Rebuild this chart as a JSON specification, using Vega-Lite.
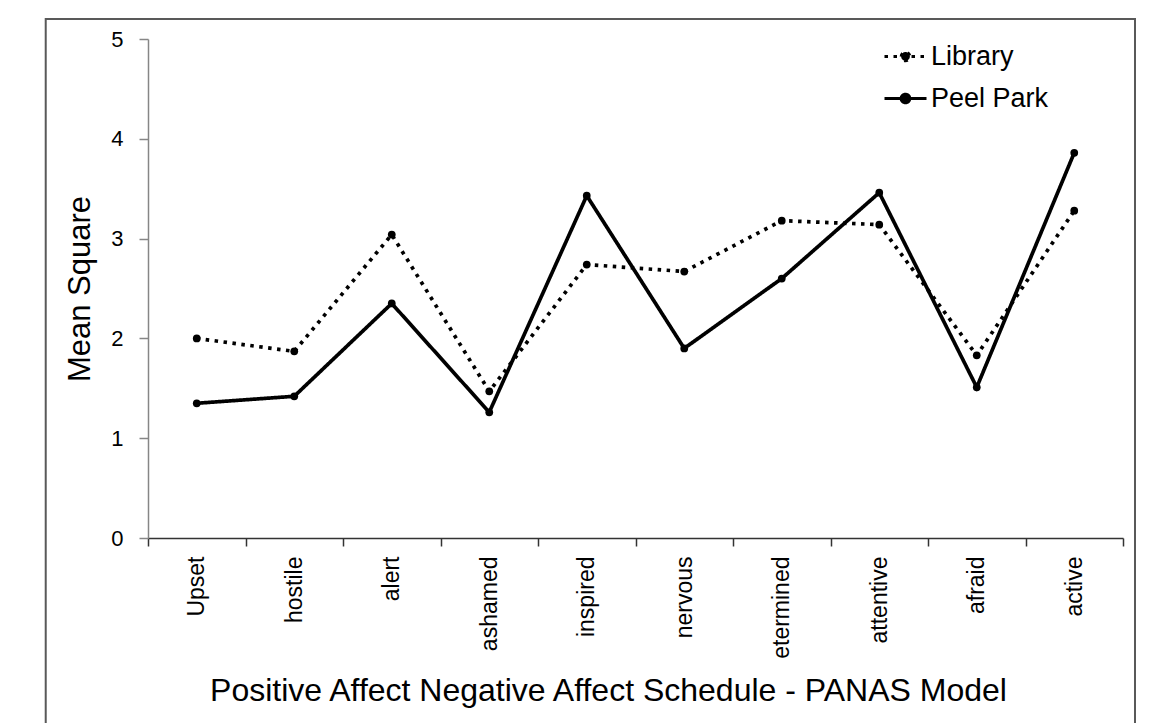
{
  "$schema": "https://vega.github.io/schema/vega-lite/v6.json",
  "width": 975,
  "height": 499,
  "autosize": {"type": "none"},
  "padding": {"left": 148, "top": 39, "right": 35, "bottom": 185},
  "background": "white",
  "config": {"font": "Liberation Sans", "view": {"stroke": null}},
  "layer": [
    {
      "data": {"values": [{"frame": 1}]},
      "mark": {"type": "rect", "filled": false, "color": "#595959", "strokeWidth": 2, "clip": false},
      "encoding": {
        "x": {"datum": -0.1049, "type": "quantitative", "scale": {"domain": [0, 1], "nice": false, "zero": false}, "axis": null},
        "x2": {"datum": 1.0123},
        "y": {"datum": 1.040, "type": "quantitative", "scale": {"domain": [0, 1], "nice": false, "zero": false}, "axis": null},
        "y2": {"datum": -0.38}
      }
    },
    {
      "data": {"values": [
        {"word": "Upset", "site": "Library", "value": 2.00},
        {"word": "hostile", "site": "Library", "value": 1.87},
        {"word": "alert", "site": "Library", "value": 3.04},
        {"word": "ashamed", "site": "Library", "value": 1.47},
        {"word": "inspired", "site": "Library", "value": 2.74},
        {"word": "nervous", "site": "Library", "value": 2.67},
        {"word": "etermined", "site": "Library", "value": 3.18},
        {"word": "attentive", "site": "Library", "value": 3.14},
        {"word": "afraid", "site": "Library", "value": 1.83},
        {"word": "active", "site": "Library", "value": 3.28},
        {"word": "Upset", "site": "Peel Park", "value": 1.35},
        {"word": "hostile", "site": "Peel Park", "value": 1.42},
        {"word": "alert", "site": "Peel Park", "value": 2.35},
        {"word": "ashamed", "site": "Peel Park", "value": 1.26},
        {"word": "inspired", "site": "Peel Park", "value": 3.43},
        {"word": "nervous", "site": "Peel Park", "value": 1.90},
        {"word": "etermined", "site": "Peel Park", "value": 2.60},
        {"word": "attentive", "site": "Peel Park", "value": 3.46},
        {"word": "afraid", "site": "Peel Park", "value": 1.51},
        {"word": "active", "site": "Peel Park", "value": 3.86}
      ]},
      "encoding": {
        "x": {
          "field": "word", "type": "nominal", "sort": null, "bandPosition": 0.5,
          "scale": {"type": "band", "paddingInner": 0, "paddingOuter": 0},
          "axis": {
            "title": "Positive Affect Negative Affect Schedule - PANAS Model",
            "titleFontSize": 32, "titleFontWeight": "normal", "titleColor": "black",
            "titleX": 460, "titleY": 162, "titleBaseline": "alphabetic", "titleAlign": "center",
            "labelAngle": -90, "labelFontSize": 23, "labelColor": "black", "labelPadding": 10,
            "tickSize": 8, "tickBand": "extent", "domainColor": "#333333", "tickColor": "#333333",
            "domainWidth": 1.5, "tickWidth": 1.5, "grid": false, "labelOverlap": false
          }
        },
        "y": {
          "field": "value", "type": "quantitative",
          "scale": {"domain": [0, 5], "nice": false},
          "axis": {
            "title": "Mean Square", "titleFontSize": 31, "titleFontWeight": "normal", "titleColor": "black",
            "titlePadding": 14, "values": [0, 1, 2, 3, 4, 5],
            "labelFontSize": 22, "labelColor": "black", "labelPadding": 16,
            "domainColor": "#868686", "tickColor": "#868686", "tickSize": 9,
            "domainWidth": 1.5, "tickWidth": 1.5, "grid": false
          }
        }
      },
      "layer": [
        {
          "mark": {"type": "line", "strokeWidth": 3.7, "color": "black"},
          "encoding": {
            "strokeDash": {
              "field": "site", "type": "nominal",
              "scale": {"domain": ["Library", "Peel Park"], "range": [[3.5, 5.5], [1, 0]]},
              "legend": {
                "orient": "none", "legendX": 735, "legendY": -5, "title": null,
                "labelFontSize": 27, "labelColor": "black", "labelOffset": 3,
                "symbolType": "M-1,0H1M-0.21,0A0.21,0.21,0,1,1,0.21,0A0.21,0.21,0,1,1,-0.21,0Z",
                "symbolSize": 1764, "symbolStrokeWidth": 2.8, "symbolStrokeColor": "black",
                "symbolFillColor": "black", "rowPadding": 6,
                "encode": {"symbols": {"update": {
                  "fill": {"value": "black"},
                  "stroke": {"value": "black"},
                  "strokeWidth": {"value": 2.8},
                  "opacity": {"value": 1}
                }}}
              }
            }
          }
        },
        {
          "mark": {"type": "point", "filled": true, "shape": "circle", "size": 60, "color": "black", "opacity": 1},
          "encoding": {"detail": {"field": "site", "type": "nominal"}}
        }
      ]
    }
  ],
  "resolve": {"scale": {"x": "independent", "y": "independent"}}
}
